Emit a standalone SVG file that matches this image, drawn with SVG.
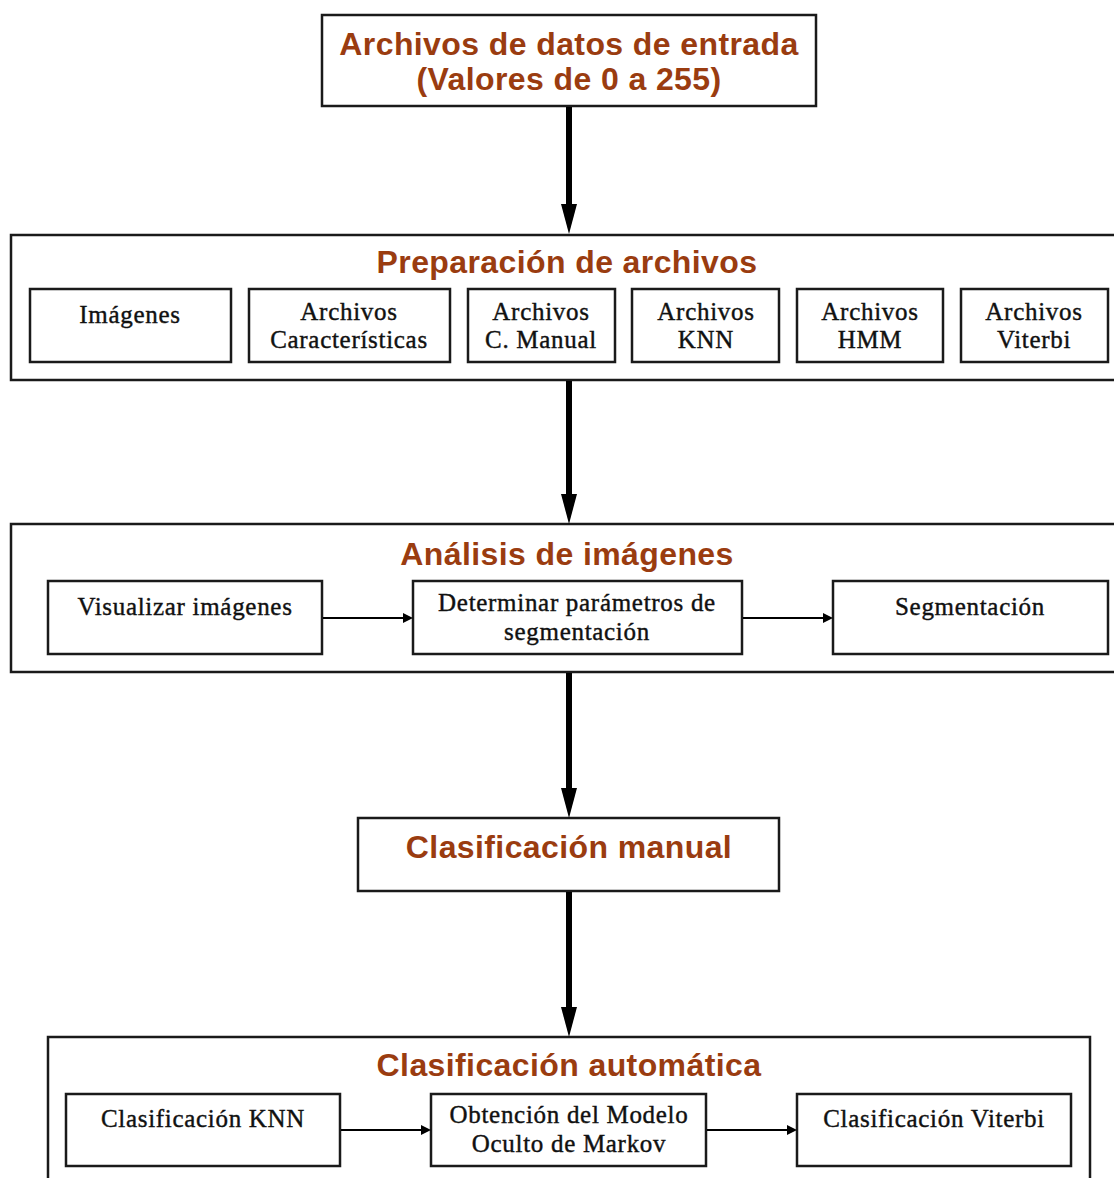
<svg xmlns="http://www.w3.org/2000/svg" width="1114" height="1178" viewBox="0 0 1114 1178">
  <style>
    .box { fill: #ffffff; stroke: #1a1a1a; stroke-width: 2.5; }
    .title { font-family: "Liberation Sans", Arial, sans-serif; font-weight: bold; font-size: 32px; letter-spacing: 0.4px; fill: #9a3c10; text-anchor: middle; }
    .label { font-family: "Liberation Serif", "Times New Roman", serif; font-size: 25px; letter-spacing: 0.7px; fill: #111111; stroke: #111111; stroke-width: 0.4; text-anchor: middle; }
    .thick { stroke: #000000; stroke-width: 6; fill: none; }
    .thin { stroke: #000000; stroke-width: 2; fill: none; }
  </style>
  <rect width="1114" height="1178" fill="#ffffff"/>

  <g id="entrada">
    <rect class="box" x="322" y="15" width="494" height="91"/>
    <text class="title" x="569" y="55">Archivos de datos de entrada</text>
    <text class="title" x="569" y="90">(Valores de 0 a 255)</text>
  </g>

  <g id="preparacion">
    <rect class="box" x="11" y="235" width="1110" height="145"/>
    <text class="title" x="567" y="273">Preparación de archivos</text>
    <g id="prep-imagenes">
      <rect class="box" x="30" y="289" width="201" height="73"/>
      <text class="label" x="130" y="323">Imágenes</text>
    </g>
    <g id="prep-caracteristicas">
      <rect class="box" x="249" y="289" width="201" height="73"/>
      <text class="label" x="349" y="320">Archivos</text>
      <text class="label" x="349" y="348">Características</text>
    </g>
    <g id="prep-manual">
      <rect class="box" x="468" y="289" width="147" height="73"/>
      <text class="label" x="541" y="320">Archivos</text>
      <text class="label" x="541" y="348">C. Manual</text>
    </g>
    <g id="prep-knn">
      <rect class="box" x="632" y="289" width="147" height="73"/>
      <text class="label" x="706" y="320">Archivos</text>
      <text class="label" x="706" y="348">KNN</text>
    </g>
    <g id="prep-hmm">
      <rect class="box" x="797" y="289" width="146" height="73"/>
      <text class="label" x="870" y="320">Archivos</text>
      <text class="label" x="870" y="348">HMM</text>
    </g>
    <g id="prep-viterbi">
      <rect class="box" x="961" y="289" width="147" height="73"/>
      <text class="label" x="1034" y="320">Archivos</text>
      <text class="label" x="1034" y="348">Viterbi</text>
    </g>
  </g>

  <g id="analisis">
    <rect class="box" x="11" y="524" width="1110" height="148"/>
    <text class="title" x="567" y="565">Análisis de imágenes</text>
    <g id="an-visualizar">
      <rect class="box" x="48" y="581" width="274" height="73"/>
      <text class="label" x="185" y="615">Visualizar imágenes</text>
    </g>
    <g id="an-parametros">
      <rect class="box" x="413" y="581" width="329" height="73"/>
      <text class="label" x="577" y="611">Determinar parámetros de</text>
      <text class="label" x="577" y="640">segmentación</text>
    </g>
    <g id="an-segmentacion">
      <rect class="box" x="833" y="581" width="275" height="73"/>
      <text class="label" x="970" y="615">Segmentación</text>
    </g>
  </g>

  <g id="manual">
    <rect class="box" x="358" y="818" width="421" height="73"/>
    <text class="title" x="569" y="858">Clasificación manual</text>
  </g>

  <g id="automatica">
    <rect class="box" x="48" y="1037" width="1042" height="160"/>
    <text class="title" x="569" y="1076">Clasificación automática</text>
    <g id="auto-knn">
      <rect class="box" x="66" y="1094" width="274" height="72"/>
      <text class="label" x="203" y="1127">Clasificación KNN</text>
    </g>
    <g id="auto-hmm">
      <rect class="box" x="431" y="1094" width="275" height="72"/>
      <text class="label" x="569" y="1123">Obtención del Modelo</text>
      <text class="label" x="569" y="1152">Oculto de Markov</text>
    </g>
    <g id="auto-viterbi">
      <rect class="box" x="797" y="1094" width="274" height="72"/>
      <text class="label" x="934" y="1127">Clasificación Viterbi</text>
    </g>
  </g>

  <!-- connectors are drawn last so they sit on top of the stage boxes -->
  <g id="connectors">
    <line class="thick" x1="569" y1="107" x2="569" y2="206"/>
    <path d="M561,204 L577,204 L569,234 Z" fill="#000"/>
    <line class="thick" x1="569" y1="381" x2="569" y2="496"/>
    <path d="M561,494 L577,494 L569,524 Z" fill="#000"/>
    <line class="thick" x1="569" y1="673" x2="569" y2="790"/>
    <path d="M561,788 L577,788 L569,818 Z" fill="#000"/>
    <line class="thick" x1="569" y1="892" x2="569" y2="1009"/>
    <path d="M561,1007 L577,1007 L569,1037 Z" fill="#000"/>

    <line class="thin" x1="323" y1="618" x2="404" y2="618"/>
    <path d="M403,613 L413,618 L403,623 Z" fill="#000"/>
    <line class="thin" x1="743" y1="618" x2="824" y2="618"/>
    <path d="M823,613 L833,618 L823,623 Z" fill="#000"/>
    <line class="thin" x1="341" y1="1130" x2="422" y2="1130"/>
    <path d="M421,1125 L431,1130 L421,1135 Z" fill="#000"/>
    <line class="thin" x1="707" y1="1130" x2="788" y2="1130"/>
    <path d="M787,1125 L797,1130 L787,1135 Z" fill="#000"/>
  </g>
</svg>
